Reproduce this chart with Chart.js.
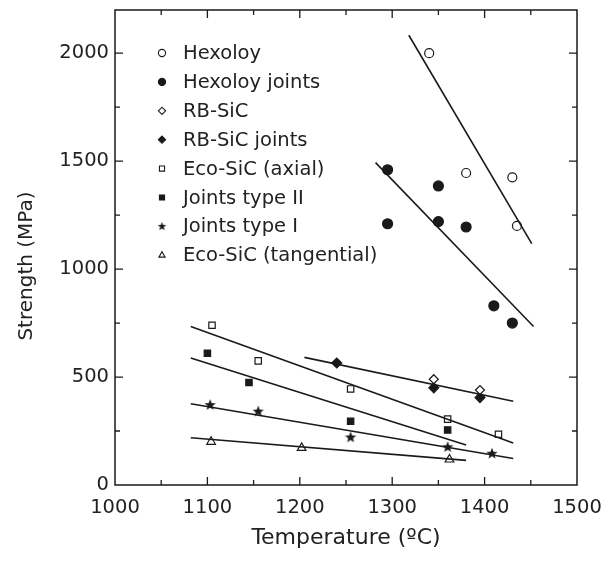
<!DOCTYPE html>
<html lang="en">
<head>
  <meta charset="UTF-8">
  <title>Strength vs temperature</title>
  <script src="https://cdn.jsdelivr.net/npm/chart.js"></script>
  <style>
    html, body { margin: 0; padding: 0; background: #fff; }
  </style>
</head>
<body>

<canvas id="strengthChart" width="615" height="563"></canvas>

<script>
// points: [temperature (ºC), strength (MPa)]
const hexoloy = [[1340, 2000], [1380, 1445], [1430, 1425], [1435, 1200]];
const hexoloyJoints = [[1295, 1460], [1295, 1210], [1350, 1385], [1350, 1220], [1380, 1195], [1410, 830], [1430, 750]];
const rbSic = [[1345, 490], [1395, 440]];
const rbSicJoints = [[1240, 565], [1345, 450], [1395, 405]];
const ecoAxial = [[1105, 740], [1155, 575], [1255, 445], [1360, 305], [1415, 235]];
const jointsII = [[1100, 610], [1145, 475], [1255, 295], [1360, 255]];
const jointsI = [[1103, 370], [1155, 340], [1255, 220], [1360, 175], [1408, 145]];
const ecoTangential = [[1104, 200], [1202, 172], [1362, 118]];

// straight fit lines drawn in the figure (end points)
const fitHexoloy = [[1318, 2083], [1451, 1118]];
const fitHexoloyJoints = [[1282, 1493], [1453, 734]];
const fitRbSicJoints = [[1205, 591], [1431, 388]];
const fitEcoAxial = [[1082, 734], [1431, 195]];
const fitJointsII = [[1082, 588], [1380, 185]];
const fitJointsI = [[1082, 376], [1431, 123]];
const fitEcoTangential = [[1082, 219], [1380, 114]];

const xTicks = [1000, 1100, 1200, 1300, 1400, 1500];
const yTicks = [0, 500, 1000, 1500, 2000];

const INK = '#1a1a1a';
const WIDE = "'DejaVu Sans', Verdana, sans-serif";
Chart.defaults.font.family = WIDE;
Chart.defaults.color = '#222';

function makeStar(r) {
  const c = document.createElement('canvas');
  const s = Math.ceil(r * 2 + 2);
  c.width = s; c.height = s;
  const g = c.getContext('2d');
  g.fillStyle = INK;
  g.beginPath();
  for (let i = 0; i < 10; i++) {
    const rad = i % 2 === 0 ? r : r * 0.42;
    const a = -Math.PI / 2 + i * Math.PI / 5;
    g.lineTo(s / 2 + rad * Math.cos(a), s / 2 + rad * Math.sin(a));
  }
  g.closePath();
  g.fill();
  return c;
}
const starBig = makeStar(6);
const starSmall = makeStar(4.5);

const toXY = arr => arr.map(p => ({ x: p[0], y: p[1] }));

function markers(label, data, style, filled, radius, legendStyle) {
  return {
    label: label,
    data: toXY(data),
    pointStyle: style,
    pointRadius: radius,
    pointBorderWidth: 1.2,
    pointBorderColor: INK,
    pointBackgroundColor: filled ? INK : '#fff',
    showLine: false,
    legendStyle: legendStyle || style,
    filled: filled
  };
}

function fitLine(data) {
  return {
    label: '',
    data: toXY(data),
    showLine: true,
    pointRadius: 0,
    borderColor: INK,
    borderWidth: 1.6,
    fit: true
  };
}

const datasets = [
  fitLine(fitHexoloy), fitLine(fitHexoloyJoints), fitLine(fitRbSicJoints),
  fitLine(fitEcoAxial), fitLine(fitJointsII), fitLine(fitJointsI), fitLine(fitEcoTangential),
  markers('Hexoloy', hexoloy, 'circle', false, 4.5),
  markers('Hexoloy joints', hexoloyJoints, 'circle', true, 5),
  markers('RB-SiC', rbSic, 'rectRot', false, 4.5),
  markers('RB-SiC joints', rbSicJoints, 'rectRot', true, 5),
  markers('Eco-SiC (axial)', ecoAxial, 'rect', false, 4.5),
  markers('Joints type II', jointsII, 'rect', true, 4.5),
  markers('Joints type I', jointsI, starBig, true, 6, starSmall),
  markers('Eco-SiC (tangential)', ecoTangential, 'triangle', false, 5)
];

// frame, inward ticks on all four sides, y title and the legend inside the plot
const frameAndLegend = {
  id: 'frameAndLegend',
  afterDatasetsDraw(chart) {
    const ctx = chart.ctx;
    const a = chart.chartArea;
    const xs = chart.scales.x, ys = chart.scales.y;
    ctx.save();
    ctx.strokeStyle = INK;
    ctx.lineWidth = 1.5;
    ctx.strokeRect(a.left, a.top, a.right - a.left, a.bottom - a.top);

    ctx.lineWidth = 1.3;
    ctx.beginPath();
    for (let v = 1050; v < 1500; v += 50) {
      const px = xs.getPixelForValue(v);
      const len = v % 100 === 0 ? 8 : 5;
      ctx.moveTo(px, a.bottom); ctx.lineTo(px, a.bottom - len);
      ctx.moveTo(px, a.top); ctx.lineTo(px, a.top + len);
    }
    for (let v = 250; v < 2200; v += 250) {
      const py = ys.getPixelForValue(v);
      const len = v % 500 === 0 ? 8 : 5;
      ctx.moveTo(a.left, py); ctx.lineTo(a.left + len, py);
      ctx.moveTo(a.right, py); ctx.lineTo(a.right - len, py);
    }
    ctx.stroke();

    // y axis title
    ctx.save();
    ctx.translate(27, 266);
    ctx.rotate(-Math.PI / 2);
    ctx.font = '20px ' + WIDE;
    ctx.fillStyle = '#222';
    ctx.textAlign = 'center';
    ctx.textBaseline = 'middle';
    ctx.fillText('Strength (MPa)', 0, 0);
    ctx.restore();

    // legend
    const x0 = a.left + 47, y0 = a.top + 43, step = 28.9;
    ctx.font = '19.5px ' + WIDE;
    ctx.textBaseline = 'middle';
    ctx.textAlign = 'left';
    let row = 0;
    chart.data.datasets.forEach(ds => {
      if (ds.fit) return;
      const y = y0 + row * step;
      ctx.strokeStyle = INK;
      ctx.fillStyle = ds.filled ? INK : '#fff';
      ctx.lineWidth = 1.1;
      Chart.helpers.drawPoint(ctx, { pointStyle: ds.legendStyle, radius: 3.6, borderWidth: 1.1, rotation: 0 }, x0, y);
      ctx.fillStyle = '#222';
      ctx.fillText(ds.label, x0 + 21, y + 1);
      row++;
    });
    ctx.restore();
  }
};

new Chart(document.getElementById('strengthChart'), {
  type: 'scatter',
  data: { datasets: datasets },
  options: {
    responsive: false,
    animation: false,
    devicePixelRatio: 1,
    layout: { padding: { left: 0, top: 10, right: 38, bottom: 0 } },
    plugins: { legend: { display: false }, tooltip: { enabled: false } },
    scales: {
      x: {
        type: 'linear',
        min: 1000, max: 1500,
        afterBuildTicks: s => { s.ticks = xTicks.map(v => ({ value: v })); },
        afterFit: s => { s.height = 78; s.paddingLeft = 0; s.paddingRight = 0; },
        ticks: { font: { size: 19.5 }, padding: 11, maxRotation: 0, callback: v => String(v) },
        grid: { display: false, drawTicks: false },
        border: { display: false },
        title: { display: true, text: 'Temperature (ºC)', font: { size: 22 }, padding: { top: 0, bottom: 12 } }
      },
      y: {
        type: 'linear',
        min: 0, max: 2200,
        afterBuildTicks: s => { s.ticks = yTicks.map(v => ({ value: v })); },
        afterFit: s => { s.width = 115; s.paddingTop = 0; s.paddingBottom = 0; },
        ticks: { font: { size: 19.5 }, padding: 6, callback: v => String(v) },
        grid: { display: false, drawTicks: false },
        border: { display: false },
        title: { display: false }
      }
    }
  },
  plugins: [frameAndLegend]
});
</script>

</body>
</html>
